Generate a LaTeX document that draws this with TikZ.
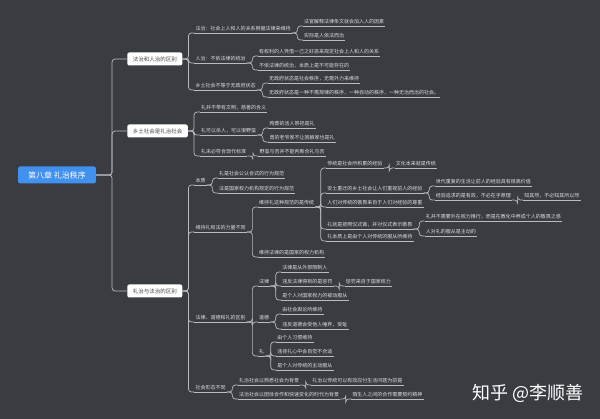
\documentclass[tikz,border=0pt]{standalone}
\usepackage{fontspec}
\setmainfont{Noto Sans CJK SC}
\usetikzlibrary{positioning}

\definecolor{bgc}{RGB}{57,60,65}
\definecolor{lnc}{RGB}{185,187,190}
\definecolor{txc}{RGB}{222,222,222}
\definecolor{rootc}{RGB}{64,145,240}
\definecolor{boxtx}{RGB}{70,72,76}

\begin{document}
\begin{tikzpicture}[x=1pt,y=-1pt,node distance=11pt,
    root node/.style={fill=rootc,text=white,rounded corners=2pt,font=\fontsize{8}{9}\selectfont,inner xsep=10pt,minimum height=17pt},
    topic node/.style={fill=white,text=boxtx,rounded corners=2pt,font=\fontsize{5.5}{6}\selectfont,inner xsep=5.5pt,minimum height=13pt},
    leaf node/.style={text=txc,font=\fontsize{5}{6}\selectfont,inner xsep=1pt,inner ysep=1.5pt,
        append after command={(\tikzlastnode.south west) edge[uline] (\tikzlastnode.south east)}},
    uline/.style={draw=lnc,line width=0.8pt},
    link/.style={draw=lnc,line width=0.7pt,rounded corners=3pt,to path={-- ++(#1,0) |- (\tikztotarget)}},
    link/.default=5.5pt]
    \useasboundingbox (0,0) rectangle (600,419);
    \fill[bgc] (0,0) rectangle (600,419);

    \node[root node] (root) at (57,175) {第八章 礼治秩序};

    \node[topic node] (law) [right=31pt of root, yshift=116pt] {法治和人治的区别};
    \node[topic node] (rite) [right=31pt of root, yshift=44pt] {乡土社会是礼治社会};
    \node[topic node] (diff) [right=31pt of root, yshift=-116pt] {礼治与法治的区别};

    % 法治和人治的区别
    \node[leaf node] (law1) [right=12pt of law, yshift=30pt] {法治：社会上人和人的关系根据法律来维持};
    \node[leaf node] (law11) [right=11pt of law1, yshift=7pt] {法官解释法律条文就会加入人的因素};
    \node[leaf node] (law12) [right=11pt of law1, yshift=-7pt] {实际是人依法而治};
    \node[leaf node] (law2) [right=12pt of law] {人治：不依法律的统治};
    \node[leaf node] (law21) [right=11pt of law2, yshift=7pt] {有权利的人凭借一己之好恶来规定社会上人和人的关系};
    \node[leaf node] (law22) [right=11pt of law2, yshift=-7pt] {不依法律的统治，本质上是不可能存在的};
    \node[leaf node] (law3) [right=12pt of law, yshift=-27pt] {乡土社会不等于无政府状态};
    \node[leaf node] (law31) [right=11pt of law3, yshift=7pt] {无政府状态是社会秩序，无需外力来维持};
    \node[leaf node] (law32) [right=11pt of law3, yshift=-7pt] {无政府状态是一种不需规律的秩序，一种自动的秩序，一种无治而治的社会。};

    % 乡土社会是礼治社会
    \node[leaf node] (rite1) [right=12pt of rite, yshift=23pt] {礼并不带有文明，慈善的含义};
    \node[leaf node] (rite2) [right=12pt of rite] {礼可以杀人，可以很野蛮};
    \node[leaf node] (rite21) [right=11pt of rite2, yshift=7pt] {殉葬的活人祭祀是礼};
    \node[leaf node] (rite22) [right=11pt of rite2, yshift=-7pt] {曾的老爷家不让回娘家也是礼};
    \node[leaf node] (rite3) [right=12pt of rite, yshift=-21pt] {礼未必符合现代标准};
    \node[leaf node] (rite31) [right=11pt of rite3] {野蛮与否并不能判断合礼与否};

    % 礼治与法治的区别
    \node[leaf node] (d1) [right=12pt of diff, yshift=110pt] {本质};
    \node[leaf node] (d11) [right=11pt of d1, yshift=7pt] {礼是社会公认合式的行为规范};
    \node[leaf node] (d12) [right=11pt of d1, yshift=-8pt] {法是国家权力机构规定的行为规范};
    \node[leaf node] (d2) [right=12pt of diff, yshift=63pt] {维持礼和法的力量不同};
    \node[leaf node] (d21) [right=11pt of d2, yshift=25pt] {维持礼这种规范的是传统};
    \node[leaf node] (d211) [right=11pt of d21, yshift=39pt] {传统是社会所积累的经验};
    \node[leaf node] (d2111) [right=11pt of d211] {文化本来就是传统};
    \node[leaf node] (d212) [right=11pt of d21, yshift=14pt] {安土重迁的乡土社会让人们重视前人的经验};
    \node[leaf node] (d2121) [right=11pt of d212, yshift=7pt] {世代重复的生活让前人的经验具有很高价值};
    \node[leaf node] (d2122) [right=11pt of d212, yshift=-7pt] {经验追求的是有效，不必在乎原理};
    \node[leaf node] (d21221) [right=11pt of d2122] {知其然，不必知其所以然};
    \node[leaf node] (d213) [right=11pt of d21] {人们对传统的敬畏来自于人们对经验的尊重};
    \node[leaf node] (d214) [right=11pt of d21, yshift=-22pt] {礼就是按照仪式做，并对仪式表示敬畏};
    \node[leaf node] (d2141) [right=11pt of d214, yshift=8pt] {礼并不需要外在权力推行，而是在教化中养成个人的敬畏之感};
    \node[leaf node] (d2142) [right=11pt of d214, yshift=-7pt] {人对礼的服从是主动的};
    \node[leaf node] (d215) [right=11pt of d21, yshift=-34pt] {礼本质上是由个人对传统的服从所维持};
    \node[leaf node] (d22) [right=11pt of d2, yshift=-25pt] {维持法律的是国家的权力机构};
    \node[leaf node] (d3) [right=12pt of diff, yshift=-27pt] {法律、道德和礼的区别};
    \node[leaf node] (d31) [right=11pt of d3, yshift=36pt] {法律};
    \node[leaf node] (d311) [right=11pt of d31, yshift=14pt] {法律是从外部限制人};
    \node[leaf node] (d312) [right=11pt of d31] {违反法律得到的是惩罚};
    \node[leaf node] (d3121) [right=11pt of d312] {惩罚来自于国家权力};
    \node[leaf node] (d313) [right=11pt of d31, yshift=-14pt] {是个人对国家权力的被动服从};
    \node[leaf node] (d32) [right=11pt of d3] {道德};
    \node[leaf node] (d321) [right=11pt of d32, yshift=8pt] {由社会舆论所维持};
    \node[leaf node] (d322) [right=11pt of d32, yshift=-7pt] {违反道德会受他人唾弃，受耻};
    \node[leaf node] (d33) [right=11pt of d3, yshift=-34pt] {礼};
    \node[leaf node] (d331) [right=11pt of d33, yshift=14pt] {由个人习惯维持};
    \node[leaf node] (d332) [right=11pt of d33] {违背礼心中会自觉不合适};
    \node[leaf node] (d333) [right=11pt of d33, yshift=-14pt] {是个人对传统的主动服从};
    \node[leaf node] (d4) [right=12pt of diff, yshift=-97pt] {社会形态不同};
    \node[leaf node] (d41) [right=11pt of d4, yshift=7pt] {礼治社会以熟悉社会为背景};
    \node[leaf node] (d411) [right=11pt of d41] {礼治以传统可以有效应付生活问题为前提};
    \node[leaf node] (d42) [right=11pt of d4, yshift=-7pt] {法治社会以团体合作和快速变化的时代为背景};
    \node[leaf node] (d421) [right=11pt of d42] {陌生人之间的合作需要契约精神};

    \node[text=white,font=\fontsize{18}{20}\selectfont] (mark) at (528,393) {知乎 @李顺善};

    \path
        (root.east) edge[link=16pt] (law.west)
        (root.east) edge[link=16pt] (rite.west)
        (root.east) edge[link=16pt] (diff.west)

        (law.east) edge[link=6pt] (law1.south west)
        (law.east) edge[link=6pt] (law2.south west)
        (law.east) edge[link=6pt] (law3.south west)
        (law1.south east) edge[link] (law11.south west)
        (law1.south east) edge[link] (law12.south west)
        (law2.south east) edge[link] (law21.south west)
        (law2.south east) edge[link] (law22.south west)
        (law3.south east) edge[link] (law31.south west)
        (law3.south east) edge[link] (law32.south west)

        (rite.east) edge[link=6pt] (rite1.south west)
        (rite.east) edge[link=6pt] (rite2.south west)
        (rite.east) edge[link=6pt] (rite3.south west)
        (rite2.south east) edge[link] (rite21.south west)
        (rite2.south east) edge[link] (rite22.south west)
        (rite3.south east) edge[link] (rite31.south west)

        (diff.east) edge[link=6pt] (d1.south west)
        (diff.east) edge[link=6pt] (d2.south west)
        (diff.east) edge[link=6pt] (d3.south west)
        (diff.east) edge[link=6pt] (d4.south west)
        (d1.south east) edge[link] (d11.south west)
        (d1.south east) edge[link] (d12.south west)
        (d2.south east) edge[link] (d21.south west)
        (d2.south east) edge[link] (d22.south west)
        (d21.south east) edge[link] (d211.south west)
        (d21.south east) edge[link] (d212.south west)
        (d21.south east) edge[link] (d213.south west)
        (d21.south east) edge[link] (d214.south west)
        (d21.south east) edge[link] (d215.south west)
        (d211.south east) edge[link] (d2111.south west)
        (d212.south east) edge[link] (d2121.south west)
        (d212.south east) edge[link] (d2122.south west)
        (d2122.south east) edge[link] (d21221.south west)
        (d214.south east) edge[link] (d2141.south west)
        (d214.south east) edge[link] (d2142.south west)
        (d3.south east) edge[link] (d31.south west)
        (d3.south east) edge[link] (d32.south west)
        (d3.south east) edge[link] (d33.south west)
        (d31.south east) edge[link] (d311.south west)
        (d31.south east) edge[link] (d312.south west)
        (d31.south east) edge[link] (d313.south west)
        (d312.south east) edge[link] (d3121.south west)
        (d32.south east) edge[link] (d321.south west)
        (d32.south east) edge[link] (d322.south west)
        (d33.south east) edge[link] (d331.south west)
        (d33.south east) edge[link] (d332.south west)
        (d33.south east) edge[link] (d333.south west)
        (d4.south east) edge[link] (d41.south west)
        (d4.south east) edge[link] (d42.south west)
        (d41.south east) edge[link] (d411.south west)
        (d42.south east) edge[link] (d421.south west)
    ;
\end{tikzpicture}
\end{document}
